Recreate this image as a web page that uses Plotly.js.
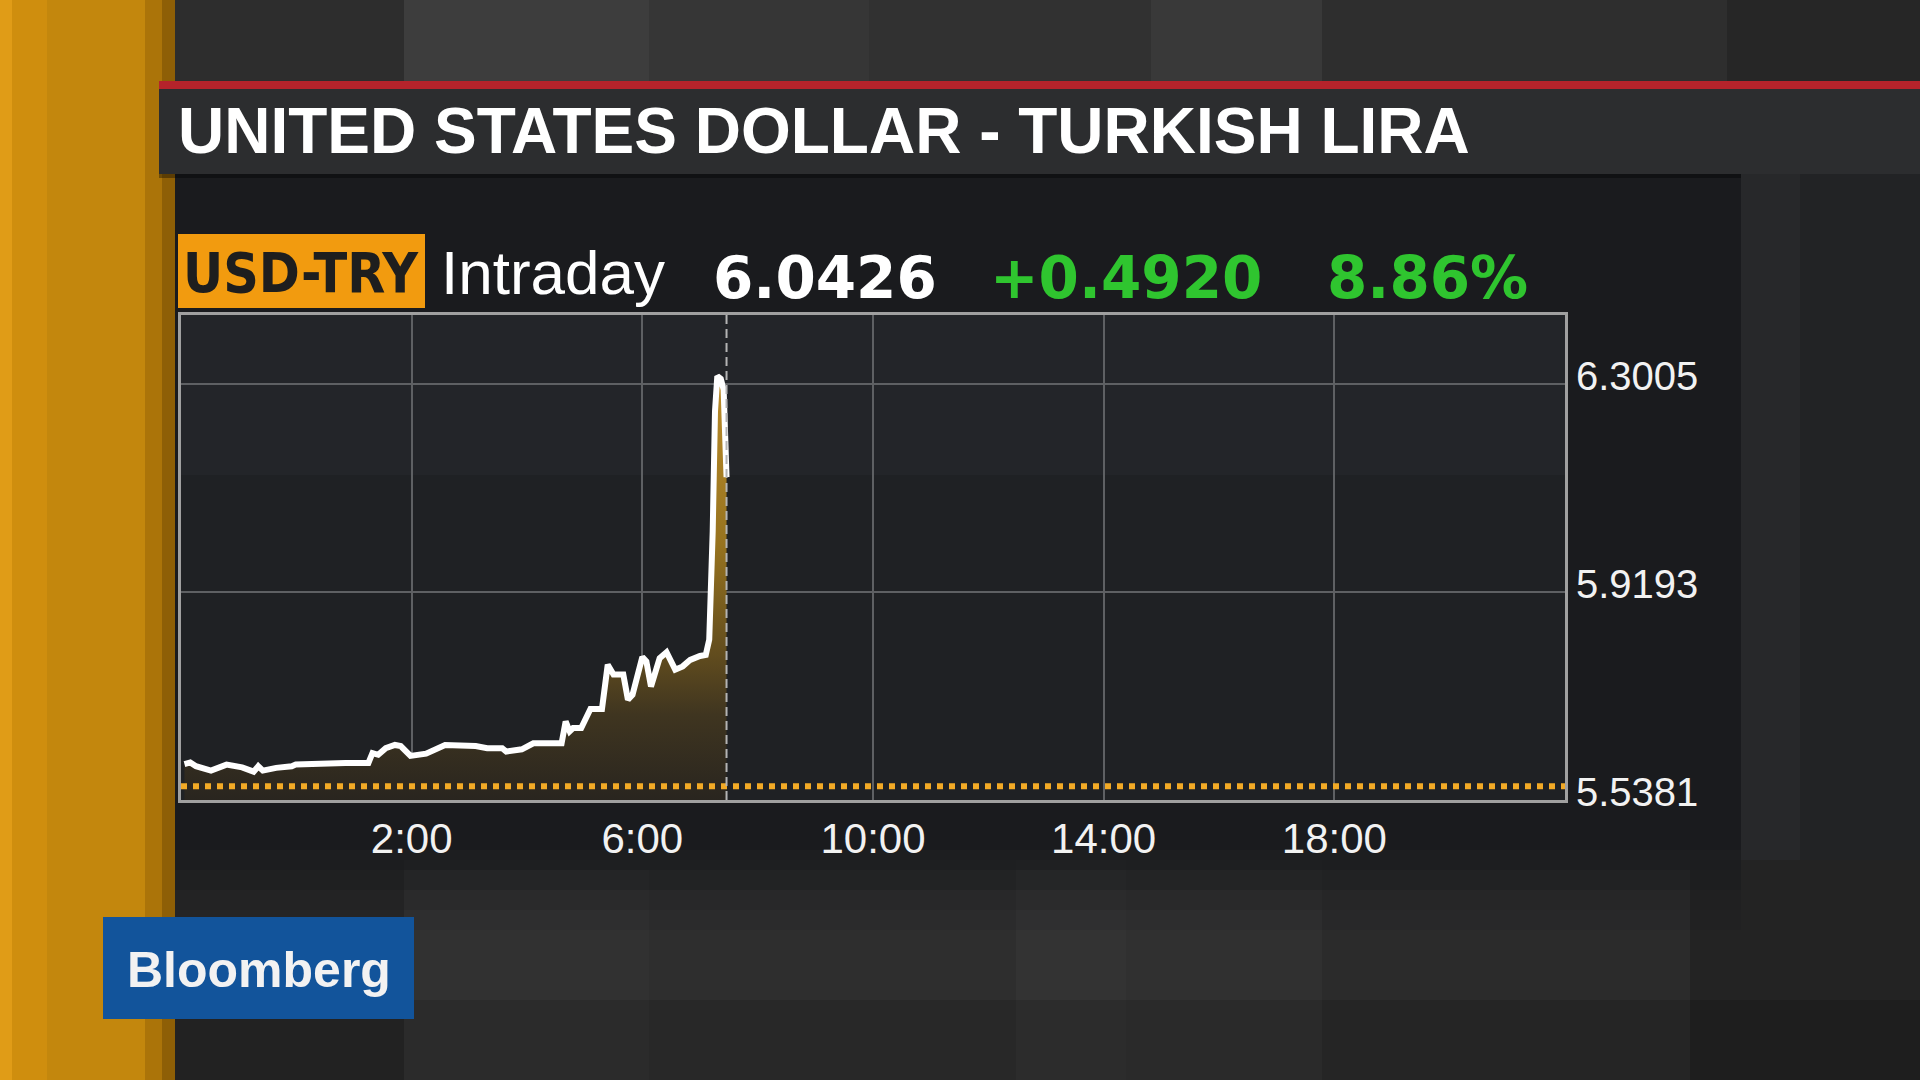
<!DOCTYPE html>
<html><head><meta charset="utf-8">
<script src="https://cdn.plot.ly/plotly-3.0.1.min.js"></script>
<style>html,body{margin:0;padding:0;background:#2b2b2b;overflow:hidden}#chart{width:1920px;height:1080px}</style>
</head><body><div id="chart"></div>
<script>
// ---- data ----
const hours = [-1.94,-1.84,-1.74,-1.48,-1.21,-0.94,-0.74,-0.66,-0.58,-0.35,-0.08,-0.01,
  0.85,1.25,1.32,1.42,1.55,1.71,1.81,1.98,
  2.25,2.38,2.58,3.11,3.31,3.57,3.64,3.91,4.11,4.60,
  4.67,4.74,4.80,4.94,5.10,5.30,5.40,5.50,5.67,5.75,
  5.83,6.00,6.07,6.15,6.30,6.42,6.57,6.70,6.83,7.00,
  7.10,7.16,7.22,7.26,7.30,7.36,7.41,7.46];
const rate = [5.604,5.607,5.600,5.592,5.603,5.598,5.590,5.600,5.592,5.597,5.600,5.603,
  5.606,5.606,5.624,5.621,5.633,5.639,5.637,5.619,
  5.623,5.629,5.639,5.637,5.633,5.633,5.627,5.631,5.642,5.642,
  5.682,5.664,5.670,5.670,5.705,5.705,5.786,5.768,5.768,5.722,
  5.731,5.800,5.792,5.746,5.798,5.809,5.777,5.783,5.795,5.802,
  5.804,5.832,6.030,6.250,6.315,6.310,6.290,6.130];
const xTickVals = [2, 6, 10, 14, 18];
const xTickText = ['2:00', '6:00', '10:00', '14:00', '18:00'];
const yTickVals = [5.5381, 5.9193, 6.3005];
const yTickText = ['5.5381', '5.9193', '6.3005'];
const prevClose = 5.5635;
const nowHour = 7.46;
const dayRange = [-2, 22];
const priceRange = [5.5381, 6.427];
const titleText = 'UNITED STATES DOLLAR - TURKISH LIRA';
const tickerText = 'USD-TRY';
const periodText = 'Intraday';
const lastText = '6.0426';
const changeText = '+0.4920';
const pctText = '8.86%';
const brandText = 'Bloomberg';

// ---- geometry helpers (pixel -> paper) ----
const W = 1920, H = 1080, L = 181, R = 1565, T = 315, B = 800;
const px = x => (x - L) / (R - L);
const py = y => (B - y) / (B - T);
const rect = (x0, y0, x1, y1, color) => ({type:'rect', xref:'paper', yref:'paper', layer:'below',
  x0: px(x0), x1: px(x1), y0: py(y1), y1: py(y0), fillcolor: color, line:{width:0}});
const note = (text, x, y, font, anchor) => ({text, xref:'paper', yref:'paper', x: px(x), y: py(y),
  xanchor: anchor || 'left', yanchor:'middle', showarrow:false, font});

const shapes = [
  // studio background, top strip
  rect(175, 0, 404, 81, '#2d2d2d'), rect(404, 0, 649, 81, '#3d3d3d'), rect(649, 0, 869, 81, '#363636'),
  rect(869, 0, 1151, 81, '#313131'), rect(1151, 0, 1322, 81, '#393939'), rect(1322, 0, 1727, 81, '#2e2e2e'),
  rect(1727, 0, 1920, 81, '#262626'),
  // studio background, bottom
  rect(175, 860, 404, 1080, '#272727'), rect(404, 860, 649, 1080, '#313131'), rect(649, 860, 1016, 1080, '#2e2e2e'),
  rect(1016, 860, 1126, 1080, '#333333'), rect(1126, 860, 1322, 1080, '#303030'), rect(1322, 860, 1690, 1080, '#2b2b2b'),
  rect(1690, 860, 1920, 1080, '#232323'),
  rect(175, 1000, 1920, 1080, 'rgba(0,0,0,0.12)'),
  // right side panel
  rect(1741, 174, 1920, 860, '#222325'), rect(1741, 174, 1800, 860, '#27282a'),
  // orange side bar
  rect(0, 0, 12, 1080, '#e09c17'), rect(12, 0, 47, 1080, '#cf8e0e'), rect(47, 0, 145, 1080, '#c3870d'),
  rect(145, 0, 162, 1080, '#ab7409'), rect(162, 0, 175, 1080, '#8e5f06'),
  // chart panel with fade
  rect(175, 174, 1741, 850, '#1a1b1e'),
  rect(175, 850, 1741, 870, 'rgba(26,27,30,0.8)'), rect(175, 870, 1741, 890, 'rgba(26,27,30,0.55)'),
  rect(175, 890, 1741, 910, 'rgba(26,27,30,0.3)'), rect(175, 910, 1741, 930, 'rgba(26,27,30,0.12)'),
  // red line + title bar
  rect(159, 81, 1920, 89, '#b5232b'), rect(159, 89, 1920, 174, '#2c2d2f'),
  rect(159, 174, 1741, 178, 'rgba(0,0,0,0.35)'),
  // ticker box
  rect(178, 234, 425, 308, '#f29b0f'),
  // plot area
  rect(L, T, R, B, '#1f2124'), rect(L, T, R, T + 160, 'rgba(40,42,46,0.5)'),
  // Bloomberg box
  rect(103, 917, 414, 1019, '#12549b'),
  // now marker
  {type:'line', xref:'x', yref:'paper', x0: nowHour, x1: nowHour, y0: 0, y1: 1, layer:'above',
   line:{color:'#b4b4b4', width:2, dash:'9px,5px'}}
];

const sans = 'Liberation Sans, Arial, Helvetica, sans-serif';
const annotations = [
  note(titleText, 176, 131, {family: sans, size: 64, color: '#ffffff', weight: 'bold'}),
  note(tickerText, 181, 273, {family: 'Liberation Sans Narrow, DejaVu Sans Condensed, Arial Narrow, sans-serif', size: 55, color: '#1e1e1e', weight: 'bold'}),
  note(periodText, 439, 272, {family: sans, size: 62, color: '#ffffff'}),
  note(lastText, 711, 278, {family: 'DejaVu Sans, sans-serif', size: 58, color: '#ffffff', weight: 'bold'}),
  note(changeText, 988, 278, {family: 'DejaVu Sans, sans-serif', size: 58, color: '#2fc52f', weight: 'bold'}),
  note(pctText, 1325, 278, {family: 'DejaVu Sans, sans-serif', size: 58, color: '#2fc52f', weight: 'bold'}),
  note(brandText, 259, 970, {family: sans, size: 50, color: '#f2f2f2', weight: 'bold'}, 'center')
];

const traces = [
  {x: hours, y: rate, type: 'scatter', mode: 'lines',
   line: {color: '#ffffff', width: 6},
   fill: 'tozeroy',
   fillgradient: {type: 'vertical', start: 5.5381, stop: 6.32,
     colorscale: [[0, '#29251f'], [0.2, '#3f3520'], [0.34, '#614c1e'], [0.6, '#97731f'], [1, '#bb8c2a']]}},
  {x: dayRange, y: [prevClose, prevClose], type: 'scatter', mode: 'lines',
   line: {color: '#f2aa26', width: 6, dash: 'dot'}}
];

const layout = {
  width: W, height: H, autosize: false,
  margin: {l: L, r: W - R, t: T, b: H - B, pad: 0},
  paper_bgcolor: '#2b2b2b', plot_bgcolor: 'rgba(0,0,0,0)',
  showlegend: false, hovermode: false,
  xaxis: {range: dayRange, tickvals: xTickVals, ticktext: xTickText, ticks: '',
    showgrid: true, gridcolor: '#5e6063', gridwidth: 2, zeroline: false,
    showline: true, mirror: true, linecolor: '#a0a0a0', linewidth: 3,
    ticklabelstandoff: 0,
    tickfont: {family: sans, size: 42, color: '#f2f2f2'}, fixedrange: true},
  yaxis: {range: priceRange, tickvals: yTickVals, ticktext: yTickText, ticks: '', side: 'right',
    showgrid: true, gridcolor: '#5e6063', gridwidth: 2, zeroline: false,
    showline: true, mirror: true, linecolor: '#a0a0a0', linewidth: 3,
    ticklabelstandoff: 0, ticklabelshift: -8,
    tickfont: {family: sans, size: 40, color: '#f2f2f2'}, fixedrange: true},
  shapes, annotations
};

Plotly.newPlot('chart', traces, layout, {staticPlot: true, displayModeBar: false});
</script></body></html>
